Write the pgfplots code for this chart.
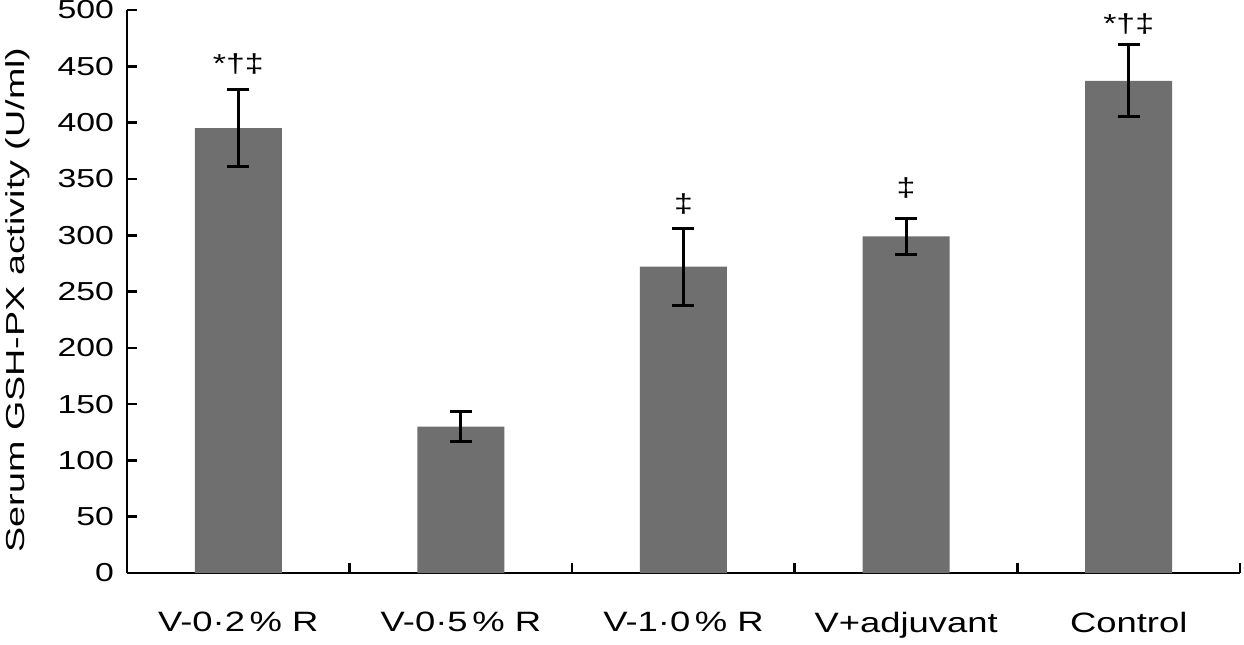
\documentclass[border=0pt]{standalone}
\usepackage{pgfplots}
\pgfplotsset{compat=1.18}
\usepackage{pgfplotstable}
\usepackage{fontspec}
\setmainfont{Liberation Sans}
\newfontfamily\tickfont[FakeStretch=1.3]{Liberation Sans}
\newfontfamily\labfont[FakeStretch=1.45]{Liberation Sans}
\definecolor{bargray}{RGB}{111,111,111}
\pgfplotstableread{
x y e
0 395 34
1 130 13
2 272 34
3 299 16
4 437 32
}\bars
\pgfplotstableread{
x y lab
0 452 {*†‡}
2 328 {‡}
3 342 {‡}
4 488 {*†‡}
}\marks
\begin{document}
\begin{tikzpicture}
\useasboundingbox (-63.5pt,-35.5pt) rectangle (558.5pt,286.5pt);
\begin{axis}[
  scale only axis, width=556.5pt, height=281.5pt,
  xmin=-0.5, xmax=4.5, ymin=0, ymax=500,
  clip=false,
  /pgf/number format/assume math mode=true,
  axis x line*=bottom, axis y line*=left,
  axis line style={line width=1.3pt, -},
  tick align=inside, major tick length=5pt,
  tick style={line width=1.3pt, black},
  xtick={-0.5,0.5,...,4.5}, x tick label as interval,
  xticklabels={V-0·2\,\%\ R, V-0·5\,\%\ R, V-1·0\,\%\ R, V+adjuvant, Control},
  ytick={0,50,...,500},
  yticklabel style={font=\tickfont\fontsize{13}{15}\selectfont, xshift=-3pt},
  xticklabel style={font=\tickfont\fontsize{14}{16}\selectfont, yshift=-16pt},
  ylabel={Serum GSH-PX activity (U/ml)},
  ylabel style={font=\labfont\fontsize{13}{15}\selectfont, at={(axis description cs:-0.098,0.485)}, anchor=center},
]
\addplot[ybar, bar width=43.5pt, fill=bargray, draw=none,
  error bars/.cd, y dir=both, y explicit,
  error bar style={line width=1.5pt, black},
  error mark options={rotate=90, mark size=5.5pt, line width=1.5pt, black}]
  table[x=x, y=y, y error=e]{\bars};
\addplot[draw=none, nodes near coords, point meta=explicit symbolic,
  every node near coord/.append style={anchor=center, font=\tickfont\fontsize{13}{15}\selectfont, inner sep=0pt}]
  table[x=x, y=y, meta=lab]{\marks};
\end{axis}
\end{tikzpicture}
\end{document}
